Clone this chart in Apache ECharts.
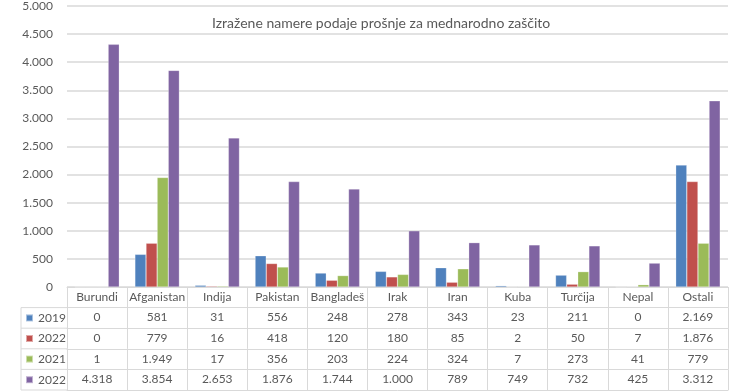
<!DOCTYPE html>
<html><head><meta charset="utf-8">
<script src="https://cdn.jsdelivr.net/npm/echarts@6/dist/echarts.min.js"></script>
<style>html,body{margin:0;padding:0;background:#fff}#c{width:736px;height:391px}</style>
</head><body><div id="c"></div>
<script>
const categories = ['Burundi','Afganistan','Indija','Pakistan','Bangladeš','Irak','Iran','Kuba','Turčija','Nepal','Ostali'];
const seriesNames = ['2019','2022','2021','2022 '];
const s2019 = [0,581,31,556,248,278,343,23,211,0,2169];
const s2022a = [0,779,16,418,120,180,85,2,50,7,1876];
const s2021 = [1,1949,17,356,203,224,324,7,273,41,779];
const s2022b = [4318,3854,2653,1876,1744,1000,789,749,732,425,3312];
const yTicks = {min:0, max:5000, interval:500};
const title = 'Izražene namere podaje prošnje za mednarodno zaščito';

const rows = [s2019, s2022a, s2021, s2022b];
const colors = ['#4F81BD','#C0504D','#9BBB59','#8064A2'];
const FONT = 'Lato';
const TXT = '#595959';
const LINE = '#d9d9d9';
const ROW = 20.6;
const fmt = v => String(v).replace(/\B(?=(\d{3})+(?!\d))/g, '.');

const chart = echarts.init(document.getElementById('c'), null, {renderer:'canvas'});

const xAxes = [];
xAxes.push({
  type:'category', data:categories, position:'bottom', offset:0,
  axisLine:{show:true, lineStyle:{color:LINE}},
  axisTick:{show:true, length:ROW, lineStyle:{color:LINE}},
  axisLabel:{interval:0, margin:4, fontSize:12, color:TXT, fontFamily:FONT}
});
rows.forEach((r, k) => {
  xAxes.push({
    type:'category', data:categories, position:'bottom', offset:ROW*(k+1),
    axisLine:{show:true, lineStyle:{color:LINE}},
    axisTick:{show:true, length:ROW, lineStyle:{color:LINE}},
    axisLabel:{interval:0, margin:4, fontSize:12, color:TXT, fontFamily:FONT,
      formatter:(val, idx) => fmt(r[idx])}
  });
});
xAxes.push({
  type:'category', data:categories, position:'bottom', offset:ROW*5,
  axisLine:{show:true, lineStyle:{color:LINE}},
  axisTick:{show:false}, axisLabel:{show:false}
});

const top0 = 287;
const gl = [];
for (let k = 1; k <= 5; k++) {
  gl.push({type:'line', shape:{x1:21, y1:top0+ROW*k, x2:67, y2:top0+ROW*k}, style:{stroke:LINE, lineWidth:1}});
}
gl.push({type:'line', shape:{x1:21, y1:top0+ROW, x2:21, y2:top0+ROW*5}, style:{stroke:LINE, lineWidth:1}});

chart.setOption({
  animation:false,
  title:{text:title, left:207, top:11, textStyle:{fontSize:14, fontWeight:'normal', color:TXT, fontFamily:FONT}},
  grid:{left:67, right:8, top:5, bottom:104, containLabel:false},
  legend:{
    orient:'vertical', left:25, top:top0+ROW+3.3, padding:0, itemWidth:7, itemHeight:7,
    itemGap:ROW-14, icon:'rect', selectedMode:false,
    textStyle:{fontSize:12, color:TXT, fontFamily:FONT, lineHeight:14},
    data:seriesNames
  },
  xAxis:xAxes,
  yAxis:{type:'value', min:yTicks.min, max:yTicks.max, interval:yTicks.interval,
    axisLine:{show:false}, axisTick:{show:false},
    splitLine:{lineStyle:{color:LINE, width:1.5}},
    axisLabel:{margin:14, fontSize:12, color:TXT, fontFamily:FONT, formatter:v => fmt(v)}
  },
  graphic:gl,
  series: rows.map((r, k) => ({
    type:'bar', name:seriesNames[k], data:r, xAxisIndex:0,
    barGap:'0%', barCategoryGap:'26%',
    itemStyle:{color:colors[k], borderColor:'rgba(255,255,255,0.5)', borderWidth:0.5}
  }))
});
</script></body></html>
